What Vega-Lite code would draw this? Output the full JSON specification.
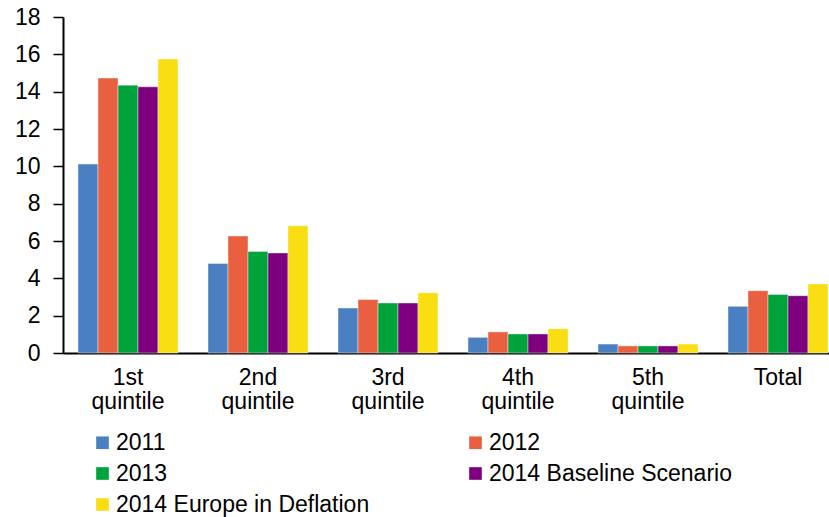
{
  "$schema": "https://vega.github.io/schema/vega-lite/v6.json",
  "autosize": {"type": "none"},
  "padding": {"left": 63, "top": 17, "right": 0, "bottom": 164},
  "width": 766,
  "height": 336,
  "background": "white",
  "config": {
    "view": {"stroke": null},
    "font": "Liberation Sans",
    "axis": {"labelFont": "Liberation Sans", "labelColor": "black", "labelFontSize": 23, "grid": false, "title": null},
    "legend": {"labelFont": "Liberation Sans", "labelColor": "black", "labelFontSize": 23}
  },
  "data": {
    "values": [
      {"group": "1st quintile", "series": "2011", "value": 10.12},
      {"group": "1st quintile", "series": "2012", "value": 14.73},
      {"group": "1st quintile", "series": "2013", "value": 14.35},
      {"group": "1st quintile", "series": "2014 Baseline Scenario", "value": 14.26},
      {"group": "1st quintile", "series": "2014 Europe in Deflation", "value": 15.75},
      {"group": "2nd quintile", "series": "2011", "value": 4.8},
      {"group": "2nd quintile", "series": "2012", "value": 6.27},
      {"group": "2nd quintile", "series": "2013", "value": 5.44},
      {"group": "2nd quintile", "series": "2014 Baseline Scenario", "value": 5.36},
      {"group": "2nd quintile", "series": "2014 Europe in Deflation", "value": 6.82},
      {"group": "3rd quintile", "series": "2011", "value": 2.41},
      {"group": "3rd quintile", "series": "2012", "value": 2.86},
      {"group": "3rd quintile", "series": "2013", "value": 2.68},
      {"group": "3rd quintile", "series": "2014 Baseline Scenario", "value": 2.68},
      {"group": "3rd quintile", "series": "2014 Europe in Deflation", "value": 3.23},
      {"group": "4th quintile", "series": "2011", "value": 0.84},
      {"group": "4th quintile", "series": "2012", "value": 1.13},
      {"group": "4th quintile", "series": "2013", "value": 1.02},
      {"group": "4th quintile", "series": "2014 Baseline Scenario", "value": 1.02},
      {"group": "4th quintile", "series": "2014 Europe in Deflation", "value": 1.3},
      {"group": "5th quintile", "series": "2011", "value": 0.48},
      {"group": "5th quintile", "series": "2012", "value": 0.38},
      {"group": "5th quintile", "series": "2013", "value": 0.38},
      {"group": "5th quintile", "series": "2014 Baseline Scenario", "value": 0.38},
      {"group": "5th quintile", "series": "2014 Europe in Deflation", "value": 0.48},
      {"group": "Total", "series": "2011", "value": 2.5},
      {"group": "Total", "series": "2012", "value": 3.34},
      {"group": "Total", "series": "2013", "value": 3.14},
      {"group": "Total", "series": "2014 Baseline Scenario", "value": 3.07},
      {"group": "Total", "series": "2014 Europe in Deflation", "value": 3.7}
    ]
  },
  "mark": {"type": "bar", "stroke": "white", "strokeWidth": 0.6, "strokeOpacity": 0.7},
  "encoding": {
    "x": {
      "field": "group",
      "type": "nominal",
      "sort": null,
      "scale": {"range": [0, 780], "paddingInner": 0.2308, "paddingOuter": 0.1154},
      "axis": {
        "labelAngle": 0,
        "labelExpr": "split(datum.value, ' ')",
        "labelLineHeight": 24,
        "labelBaseline": "top",
        "labelPadding": 13,
        "ticks": false,
        "domainColor": "black",
        "domainWidth": 2
      }
    },
    "xOffset": {"field": "series", "type": "nominal", "sort": null},
    "y": {
      "field": "value",
      "type": "quantitative",
      "scale": {"domain": [0, 18], "nice": false},
      "axis": {
        "values": [0, 2, 4, 6, 8, 10, 12, 14, 16, 18],
        "tickSize": 10,
        "tickColor": "black",
        "tickWidth": 1.5,
        "domainColor": "black",
        "domainWidth": 2,
        "labelPadding": 13
      }
    },
    "color": {
      "field": "series",
      "type": "nominal",
      "sort": null,
      "scale": {
        "domain": ["2011", "2012", "2013", "2014 Baseline Scenario", "2014 Europe in Deflation"],
        "range": ["#4a80c2", "#e8603f", "#00a33b", "#7e007e", "#fade14"]
      },
      "legend": {
        "title": null,
        "orient": "none",
        "direction": "horizontal",
        "legendX": 28,
        "legendY": 414,
        "columns": 2,
        "columnPadding": 94,
        "rowPadding": 7,
        "padding": 0,
        "labelLimit": 500,
        "symbolType": "square",
        "symbolSize": 160,
        "symbolStrokeWidth": 0,
        "labelOffset": 2
      }
    }
  }
}
